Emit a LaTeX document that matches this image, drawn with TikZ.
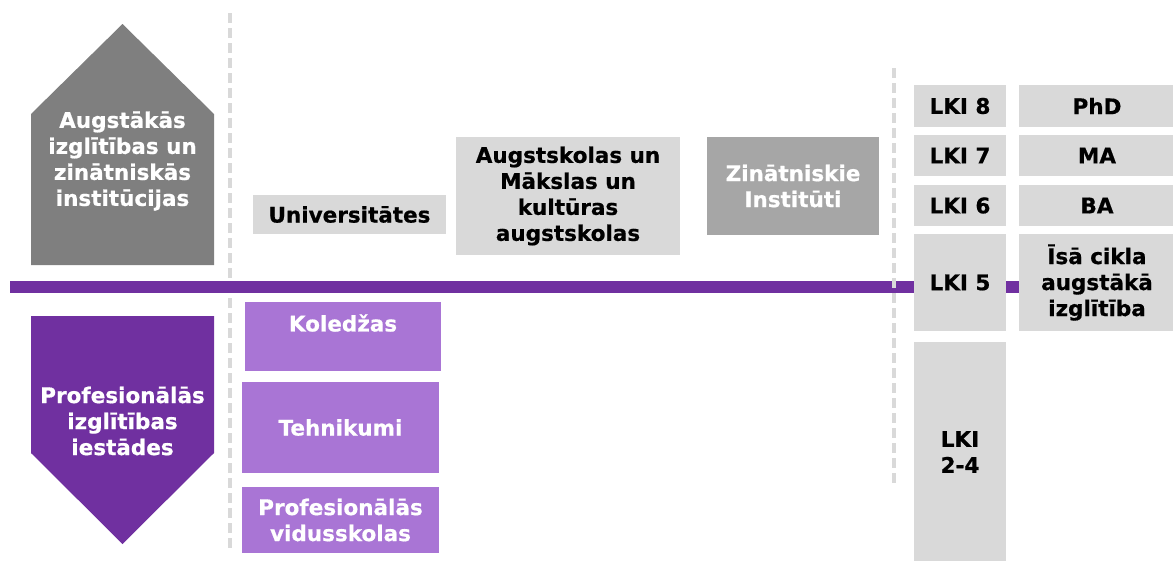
\documentclass[tikz,border=0pt]{standalone}
\usepackage{fontspec}
\setmainfont{DejaVu Sans}[BoldFeatures={FakeBold=0.6}]
\definecolor{dgrey}{HTML}{7F7F7F}
\definecolor{lgrey}{HTML}{D9D9D9}
\definecolor{mgrey}{HTML}{A6A6A6}
\definecolor{dpurple}{HTML}{7030A0}
\definecolor{lpurple}{HTML}{A975D5}
\begin{document}
\begin{tikzpicture}[x=1pt,y=-1pt,
  font=\bfseries\fontsize{21.5}{26}\selectfont,
  box/.style={inner sep=0pt, outer sep=0pt, align=center},
  greybox/.style={box, fill=lgrey, text=black},
  midbox/.style={box, fill=mgrey, text=white},
  purplebox/.style={box, fill=lpurple, text=white},
  txt/.style={inner sep=0pt, align=center},
  divider/.style={draw=lgrey, line width=3.5pt, dash pattern=on 10pt off 5pt},
  axis/.style={draw=dpurple, line width=12pt}
]
\useasboundingbox (0,0) rectangle (1173,560);

% left divider
\coordinate (ld1) at (230,13);
\coordinate (ld2) at (230,548);
\draw[divider] (ld1) -- (ld2);

% purple axis
\coordinate (ax1) at (10,286.5);
\coordinate (ax2) at (1019,286.5);
\draw[axis] (ax1) -- (ax2);

% right divider
\coordinate (rd1) at (894,68);
\coordinate (rd2) at (894,487);
\draw[divider] (rd1) -- (rd2);

% house shape
\fill[dgrey] (31,265) -- (31,114) -- (122.5,24) -- (214,114) -- (214,265) -- cycle;
\node[txt, text=white] (house) at (122.5,161) {Augstākās\\izglītības un\\zinātniskās\\institūcijas};

% down arrow
\fill[dpurple] (31,316) -- (214,316) -- (214,453) -- (122.5,544) -- (31,453) -- cycle;
\node[txt, text=white] (arrow) at (122.5,421) {Profesionālās\\izglītības\\iestādes};

% upper boxes
\node[greybox, minimum width=193, minimum height=39] (univ) at (349.5,214.5) {Universitātes};
\node[greybox, minimum width=224, minimum height=118] (augst) at (568,196) {Augstskolas un\\Mākslas un\\kultūras\\augstskolas};
\node[midbox, minimum width=172, minimum height=98] (zin) at (793,186) {Zinātniskie\\Institūti};

% lower boxes
\node[purplebox, minimum width=196, minimum height=69] (kol) at (343,336.5) {};
\node[txt, text=white] (koltxt) at (343,323) {Koledžas};
\node[purplebox, minimum width=197, minimum height=91] (teh) at (340.5,427.5) {Tehnikumi};
\node[purplebox, minimum width=197, minimum height=66] (pvid) at (340.5,520) {Profesionālās\\vidusskolas};

% LKI column
\node[greybox, minimum width=92, minimum height=42] (l8) at (960,106) {LKI 8};
\node[greybox, minimum width=92, minimum height=41] (l7) at (960,155.5) {LKI 7};
\node[greybox, minimum width=92, minimum height=41] (l6) at (960,205.5) {LKI 6};
\node[greybox, minimum width=92, minimum height=97] (l5) at (960,282.5) {LKI 5};
\node[greybox, minimum width=92, minimum height=220] (l24) at (960,452) {LKI\\2-4};

% degree column
\node[greybox, minimum width=156, minimum height=42] (phd) at (1097,106) {PhD};
\node[greybox, minimum width=156, minimum height=41] (ma) at (1097,155.5) {MA};
\node[greybox, minimum width=156, minimum height=41] (ba) at (1097,205.5) {BA};
\node[greybox, minimum width=156, minimum height=97] (isa) at (1097,282.5) {Īsā cikla\\augstākā\\izglītība};
\end{tikzpicture}
\end{document}
